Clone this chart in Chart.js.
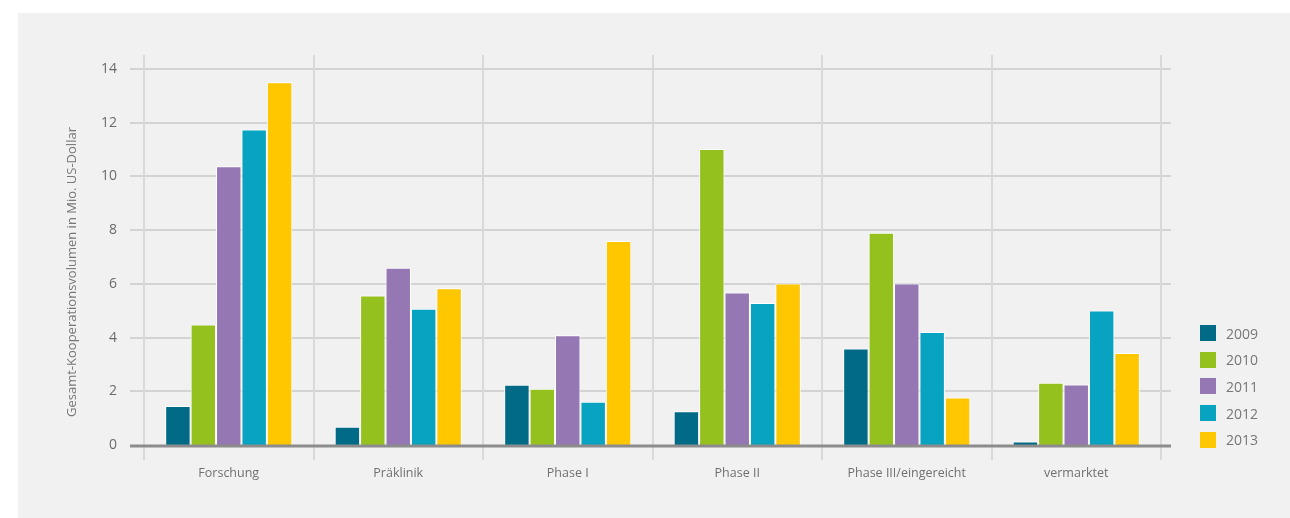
<!DOCTYPE html>
<html lang="de">
<head>
  <meta charset="UTF-8">
  <title>Gesamt-Kooperationsvolumen</title>
  <script src="https://cdn.jsdelivr.net/npm/chart.js"></script>
  <style>
    body {
      margin: 0;
      background: #fff;
      font-family: "Open Sans", Arial, sans-serif;
    }
    .panel {
      position: absolute;
      left: 18px;
      top: 13px;
      width: 1272px;
      height: 505px;
      background: #f1f1f1;
    }
    #legend {
      position: absolute;
      left: 1182px;
      top: 307px;
      margin: 0;
      padding: 0;
      list-style: none;
    }
    #legend li {
      height: 26.6px;
      display: flex;
      align-items: center;
      font-size: 14px;
      color: #777;
    }
    #legend span.box {
      width: 16px;
      height: 16px;
      margin-right: 10px;
    }
  </style>
</head>
<body>

<div class="panel">
  <canvas id="chart" width="1272" height="505"></canvas>
  <ul id="legend"></ul>
</div>

<script>
const categories = ["Forschung", "Präklinik", "Phase I", "Phase II", "Phase III/eingereicht", "vermarktet"];
const years = ["2009", "2010", "2011", "2012", "2013"];
const colors = ["#006a87", "#95c11f", "#9577b3", "#07a3c1", "#fec700"];

const v2009 = [1.45, 0.68, 2.24, 1.26, 3.59, 0.13];
const v2010 = [4.49, 5.57, 2.09, 11.02, 7.9, 2.32];
const v2011 = [10.38, 6.6, 4.09, 5.68, 6.01, 2.25];
const v2012 = [11.75, 5.07, 1.61, 5.29, 4.21, 5.01];
const v2013 = [13.51, 5.84, 7.6, 6.01, 1.77, 3.43];
const seriesValues = [v2009, v2010, v2011, v2012, v2013];

const yTicks = [0, 2, 4, 6, 8, 10, 12, 14];
const yTitle = "Gesamt-Kooperationsvolumen in Mio. US-Dollar";

// grid lines reach a bit past the plot area, drawn by hand
const gridPlugin = {
  id: 'gridExt',
  beforeDatasetsDraw(chart) {
    const { ctx, chartArea: a, scales: { x, y } } = chart;
    ctx.save();
    ctx.lineWidth = 2;
    ctx.strokeStyle = '#d3d3d3';
    yTicks.forEach(t => {
      if (t === 0) return;
      const py = Math.round(y.getPixelForValue(t));
      ctx.beginPath();
      ctx.moveTo(a.left - 14, py);
      ctx.lineTo(a.right + 10, py);
      ctx.stroke();
    });
    ctx.strokeStyle = '#d9d9d9';
    const step = (a.right - a.left) / categories.length;
    for (let i = 0; i <= categories.length; i++) {
      const px = Math.round(a.left + i * step);
      ctx.beginPath();
      ctx.moveTo(px, a.top - 14);
      ctx.lineTo(px, a.bottom + 15);
      ctx.stroke();
    }
    ctx.restore();
  },
  afterDatasetsDraw(chart) {
    const { ctx, chartArea: a, scales: { y } } = chart;
    ctx.save();
    const py = y.getPixelForValue(0);
    ctx.strokeStyle = '#8c8c8c';
    ctx.lineWidth = 3;
    ctx.beginPath();
    ctx.moveTo(a.left - 14, py + 1);
    ctx.lineTo(a.right + 10, py + 1);
    ctx.stroke();

    // y axis title
    ctx.translate(a.left - 72, (a.top + a.bottom) / 2 + 15);
    ctx.rotate(-Math.PI / 2);
    ctx.fillStyle = '#777';
    ctx.font = '13px "Open Sans"';
    ctx.textAlign = 'center';
    ctx.textBaseline = 'middle';
    ctx.fillText(yTitle, 0, 0);
    ctx.restore();
  }
};

const ctx = document.getElementById('chart').getContext('2d');
new Chart(ctx, {
  type: 'bar',
  data: {
    labels: categories,
    datasets: years.map((yr, i) => ({
      label: yr,
      data: seriesValues[i],
      backgroundColor: colors[i],
      borderColor: '#ffffff',
      borderWidth: 1,
      borderSkipped: 'bottom',
      categoryPercentage: 0.75,
      barPercentage: 1.0
    }))
  },
  options: {
    responsive: false,
    animation: false,
    devicePixelRatio: 1,
    layout: { padding: { left: 0, top: 56, right: 129, bottom: 0 } },
    plugins: {
      legend: { display: false },
      tooltip: { enabled: false }
    },
    scales: {
      x: {
        grid: { display: false, drawTicks: false },
        border: { display: false },
        ticks: {
          padding: 21,
          color: '#707070',
          font: { family: 'Open Sans', size: 12.5 },
          maxRotation: 0
        },
        afterFit: s => { s.height = 73; }
      },
      y: {
        min: 0,
        max: 14,
        grid: { display: false, drawTicks: false },
        border: { display: false },
        ticks: {
          stepSize: 2,
          padding: 27,
          color: '#6b6b6b',
          font: { family: 'Open Sans', size: 14 }
        },
        afterBuildTicks: s => { s.ticks = yTicks.map(v => ({ value: v })); },
        afterFit: s => { s.width = 126; }
      }
    }
  },
  plugins: [gridPlugin]
});

const legend = document.getElementById('legend');
years.forEach((yr, i) => {
  const li = document.createElement('li');
  li.innerHTML = `<span class="box" style="background:${colors[i]}"></span>${yr}`;
  legend.appendChild(li);
});
</script>

</body>
</html>
